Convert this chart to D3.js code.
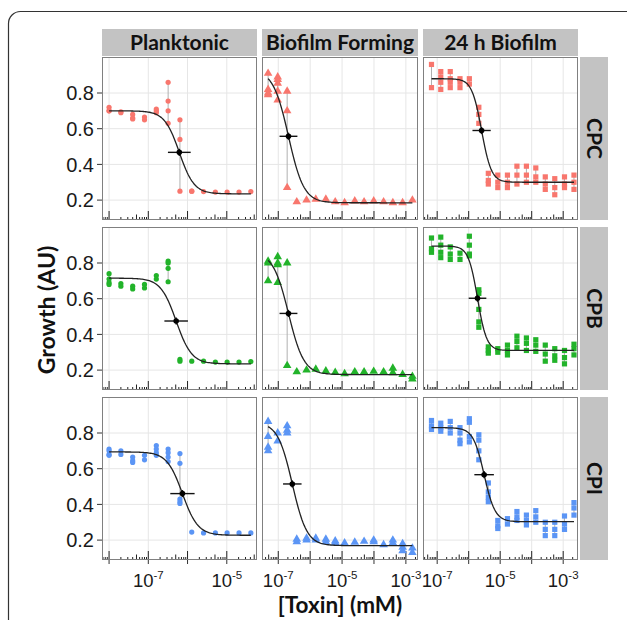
<!DOCTYPE html>
<html>
<head>
<meta charset="utf-8">
<script src="https://cdn.jsdelivr.net/npm/d3@7"></script>
<style>
body { margin: 0; background: #fff; }
</style>
</head>
<body>
<script>
// facet labels
var colNames = ["Planktonic", "Biofilm Forming", "24 h Biofilm"];
var rowNames = ["CPC", "CPB", "CPI"];
var rowColors = ["#F8766D", "#22b32a", "#5b95f5"];

// toxin concentrations (mM) per column
var concPlank = [1e-8, 2e-8, 4e-8, 8e-8, 1.6e-7, 3.2e-7, 6.4e-7, 1.28e-6, 2.56e-6, 5.12e-6, 1.02e-5, 2.05e-5, 4.1e-5];
var concForm = [4.8e-8, 9.6e-8, 1.9e-7, 3.8e-7, 7.7e-7, 1.5e-6, 3.1e-6, 6.1e-6, 1.2e-5, 2.5e-5, 4.9e-5, 9.8e-5, 2.0e-4, 3.9e-4, 7.9e-4, 1.6e-3];
var concBio = [6.6e-8, 1.3e-7, 2.6e-7, 5.3e-7, 1.05e-6, 2.1e-6, 4.2e-6, 8.4e-6, 1.7e-5, 3.4e-5, 6.8e-5, 1.35e-4, 2.7e-4, 5.4e-4, 1.1e-3, 2.2e-3];

// replicate growth values at each concentration
var plankCPC = [[0.72,0.70,0.70],[0.695,0.69],[0.68,0.66,0.655],[0.665,0.65],[0.71,0.70,0.69],[0.86,0.755,0.70,0.63],[0.65,0.54,0.25],[0.25,0.25],[0.248],[0.245],[0.245],[0.245],[0.248]];
var formCPC = [[0.91,0.82,0.80,0.79],[0.89,0.875,0.855,0.81,0.76],[0.81,0.70,0.27],[0.19],[0.20],[0.205],[0.205],[0.19],[0.185],[0.195],[0.19],[0.195],[0.19],[0.185],[0.185],[0.20]];
var bioCPC = [[0.96,0.83],[0.92,0.89,0.86,0.82],[0.92,0.88,0.86,0.83],[0.88,0.86,0.83],[0.88,0.85],[0.72,0.68,0.63],[0.35,0.31,0.29],[0.34,0.30,0.27],[0.34,0.30,0.27],[0.39,0.34,0.29],[0.39,0.34,0.30],[0.38,0.33,0.30],[0.33,0.29,0.26],[0.32,0.27,0.23],[0.33,0.29,0.27],[0.34,0.30,0.26]];

var plankCPB = [[0.74,0.71,0.69,0.68],[0.685,0.67],[0.67,0.655],[0.68,0.66],[0.73,0.71],[0.81,0.80,0.77,0.695],[0.26,0.25],[0.25],[0.25],[0.245],[0.245],[0.245],[0.248]];
var formCPB = [[0.81,0.80,0.70],[0.835,0.80,0.79,0.69],[0.80,0.225],[0.19],[0.20],[0.205],[0.195],[0.187],[0.18],[0.19],[0.19],[0.193],[0.19],[0.21,0.185],[0.175],[0.165,0.15]];
var bioCPB = [[0.94,0.88,0.86],[0.945,0.90,0.86,0.83],[0.89,0.85,0.82],[0.855,0.82],[0.95,0.90,0.85,0.84],[0.65,0.63,0.54,0.47,0.44],[0.33,0.31,0.295],[0.32,0.30],[0.34,0.31,0.285],[0.39,0.36,0.325],[0.38,0.35,0.31],[0.37,0.34,0.305],[0.34,0.29,0.25],[0.32,0.28,0.255],[0.31,0.27,0.235],[0.345,0.32,0.285]];

var plankCPI = [[0.71,0.70,0.68,0.675],[0.70,0.68],[0.665,0.645,0.635],[0.675,0.65],[0.73,0.71,0.69,0.675],[0.71,0.69,0.665,0.64],[0.685,0.63,0.43,0.415,0.405],[0.245],[0.24],[0.24],[0.24],[0.24],[0.24]];
var formCPI = [[0.865,0.78,0.72,0.70],[0.80,0.755],[0.84,0.815,0.80],[0.205,0.19],[0.21,0.20],[0.21,0.20],[0.205,0.19],[0.195,0.185],[0.184],[0.188],[0.193],[0.20,0.19],[0.174],[0.20,0.185],[0.18,0.16,0.14],[0.155,0.13]];
var bioCPI = [[0.87,0.84,0.82],[0.855,0.83,0.81],[0.865,0.83,0.80],[0.83,0.80,0.76,0.74],[0.88,0.86,0.78,0.75],[0.79,0.76,0.70,0.65],[0.52,0.47,0.44,0.415],[0.31,0.28,0.265],[0.32,0.29],[0.36,0.33,0.31],[0.34,0.31,0.285],[0.365,0.33,0.30],[0.30,0.26,0.225],[0.30,0.26,0.225],[0.335,0.29,0.26],[0.41,0.38,0.34]];

// fitted dose-response parameters, panel order row by row
var fitTop    = [0.70, 0.93, 0.88, 0.715, 0.86, 0.895, 0.694, 0.86, 0.83];
var fitBottom = [0.235, 0.185, 0.30, 0.235, 0.175, 0.31, 0.227, 0.169, 0.303];
var fitLogEC50 = [-6.21, -6.68, -5.59, -6.29, -6.68, -5.72, -6.13, -6.56, -5.51];
var fitHill   = [2.3, 1.8, 2.8, 2.2, 1.8, 3.0, 2.2, 1.9, 2.5];
var ec50Err   = [0.29, 0.28, 0.29, 0.30, 0.28, 0.28, 0.31, 0.29, 0.31];

var yTicks = [0.2, 0.4, 0.6, 0.8];
var xLabelExp = [[-7, -5], [-7, -5, -3], [-7, -5, -3]];

var panelData = [plankCPC, formCPC, bioCPC, plankCPB, formCPB, bioCPB, plankCPI, formCPI, bioCPI];
var colConc = [concPlank, concForm, concBio];

// layout
var colX = [[102, 257], [262, 418], [423, 578]];
var rowY = [[57, 220], [227, 390], [397, 560]];
var colDom = [[-8.18, -4.23], [-7.51, -2.62], [-7.45, -2.53]];

var svg = d3.select("body").append("svg")
    .attr("width", 627)
    .attr("height", 620);

svg.append("rect")
    .attr("x", 8.5).attr("y", 11.5)
    .attr("width", 700).attr("height", 700)
    .attr("rx", 12)
    .attr("fill", "none")
    .attr("stroke", "#333")
    .attr("stroke-width", 1.2);

var tickFont = "'Liberation Sans', Arial, sans-serif";
var boldFont = "Lato, 'Open Sans', sans-serif";

function drawPanel(r, c) {
  var idx = r * 3 + c;
  var x = d3.scaleLog()
      .domain([Math.pow(10, colDom[c][0]), Math.pow(10, colDom[c][1])])
      .range(colX[c]);
  var y = d3.scaleLinear()
      .domain([0.0885, 1.0017])
      .range([rowY[r][1], rowY[r][0]]);
  var g = svg.append("g");
  var x0 = colX[c][0], x1 = colX[c][1], y0 = rowY[r][0], y1 = rowY[r][1];

  g.append("rect").attr("x", x0).attr("y", y0)
      .attr("width", x1 - x0).attr("height", y1 - y0)
      .attr("fill", "#fff");

  // grid
  var decades = d3.range(Math.ceil(colDom[c][0]), Math.floor(colDom[c][1]) + 1);
  g.selectAll(".vg").data(decades).enter().append("line")
      .attr("x1", function(d) { return x(Math.pow(10, d)); })
      .attr("x2", function(d) { return x(Math.pow(10, d)); })
      .attr("y1", y0).attr("y2", y1)
      .attr("stroke", "#e6e6e6").attr("stroke-width", 1);
  g.selectAll(".hg").data(yTicks).enter().append("line")
      .attr("x1", x0).attr("x2", x1)
      .attr("y1", function(d) { return y(d); })
      .attr("y2", function(d) { return y(d); })
      .attr("stroke", "#e6e6e6").attr("stroke-width", 1);

  // log ticks along the bottom
  var lt = [];
  for (var d = Math.floor(colDom[c][0]); d <= Math.ceil(colDom[c][1]); d++) {
    for (var k = 1; k <= 9; k++) {
      var v = k * Math.pow(10, d);
      var lv = Math.log10(v);
      if (lv >= colDom[c][0] && lv <= colDom[c][1]) lt.push({v: v, len: k == 1 ? 9 : (k == 5 ? 5.5 : 3)});
    }
  }
  g.selectAll(".lt").data(lt).enter().append("line")
      .attr("x1", function(d) { return x(d.v); })
      .attr("x2", function(d) { return x(d.v); })
      .attr("y1", y1).attr("y2", function(d) { return y1 - d.len; })
      .attr("stroke", "#222").attr("stroke-width", 1);

  // replicate points
  var conc = colConc[c];
  var reps = panelData[idx];
  var pts = [];
  var ranges = [];
  reps.forEach(function(arr, i) {
    arr.forEach(function(v) { pts.push({x: conc[i], y: v}); });
    if (arr.length > 1) ranges.push({x: conc[i], lo: d3.min(arr), hi: d3.max(arr)});
  });

  g.selectAll(".rb").data(ranges).enter().append("line")
      .attr("x1", function(d) { return x(d.x); })
      .attr("x2", function(d) { return x(d.x); })
      .attr("y1", function(d) { return y(d.lo); })
      .attr("y2", function(d) { return y(d.hi); })
      .attr("stroke", "#b0b0b0").attr("stroke-width", 1);

  var col = rowColors[r];
  if (c == 0) {
    g.selectAll(".pt").data(pts).enter().append("circle")
        .attr("cx", function(d) { return x(d.x); })
        .attr("cy", function(d) { return y(d.y); })
        .attr("r", 2.6)
        .attr("fill", col);
  } else if (c == 1) {
    g.selectAll(".pt").data(pts).enter().append("path")
        .attr("d", d3.symbol().type(d3.symbolTriangle).size(32))
        .attr("transform", function(d) { return "translate(" + x(d.x) + "," + y(d.y) + ")"; })
        .attr("fill", col);
  } else {
    g.selectAll(".pt").data(pts).enter().append("rect")
        .attr("x", function(d) { return x(d.x) - 2.6; })
        .attr("y", function(d) { return y(d.y) - 2.6; })
        .attr("width", 5.2).attr("height", 5.2)
        .attr("fill", col);
  }

  // fitted curve
  var fTop = fitTop[idx], fBot = fitBottom[idx], ec = fitLogEC50[idx], hill = fitHill[idx];
  var lx0 = Math.log10(conc[0]), lx1 = Math.log10(conc[conc.length - 1]);
  var curve = d3.range(0, 121).map(function(i) {
    var lx = lx0 + (lx1 - lx0) * i / 120;
    return {x: Math.pow(10, lx), y: fBot + (fTop - fBot) / (1 + Math.pow(10, hill * (lx - ec)))};
  });
  g.append("path").datum(curve)
      .attr("d", d3.line().x(function(d) { return x(d.x); }).y(function(d) { return y(d.y); }))
      .attr("fill", "none").attr("stroke", "#222").attr("stroke-width", 1.3);

  // EC50 marker
  var ecY = (fTop + fBot) / 2;
  g.append("line")
      .attr("x1", x(Math.pow(10, ec - ec50Err[idx]))).attr("x2", x(Math.pow(10, ec + ec50Err[idx])))
      .attr("y1", y(ecY)).attr("y2", y(ecY))
      .attr("stroke", "#111").attr("stroke-width", 1.4);
  g.append("line")
      .attr("x1", x(Math.pow(10, ec))).attr("x2", x(Math.pow(10, ec)))
      .attr("y1", y(ecY + 0.02)).attr("y2", y(ecY - 0.02))
      .attr("stroke", "#111").attr("stroke-width", 1.4);
  g.append("circle")
      .attr("cx", x(Math.pow(10, ec))).attr("cy", y(ecY))
      .attr("r", 2.8).attr("fill", "#000");

  // border
  g.append("rect").attr("x", x0 + 0.5).attr("y", y0 + 0.5)
      .attr("width", x1 - x0 - 1).attr("height", y1 - y0 - 1)
      .attr("fill", "none").attr("stroke", "#808080").attr("stroke-width", 1);

  // y axis
  if (c == 0) {
    g.selectAll(".yt").data(yTicks).enter().append("line")
        .attr("x1", x0 - 5).attr("x2", x0)
        .attr("y1", function(d) { return y(d); })
        .attr("y2", function(d) { return y(d); })
        .attr("stroke", "#333");
    g.selectAll(".yl").data(yTicks).enter().append("text")
        .attr("x", x0 - 8)
        .attr("y", function(d) { return y(d); })
        .attr("dy", "0.36em")
        .attr("text-anchor", "end")
        .attr("font-family", tickFont)
        .attr("font-size", 20)
        .attr("fill", "#1a1a1a")
        .text(function(d) { return d3.format(".1f")(d); });
  }

  // x axis
  if (r == 2) {
    g.selectAll(".xt").data(decades).enter().append("line")
        .attr("x1", function(d) { return x(Math.pow(10, d)); })
        .attr("x2", function(d) { return x(Math.pow(10, d)); })
        .attr("y1", y1).attr("y2", y1 + 4)
        .attr("stroke", "#333");
    var xl = g.selectAll(".xl").data(xLabelExp[c]).enter().append("text")
        .attr("x", function(d) { return x(Math.pow(10, d)); })
        .attr("y", 587)
        .attr("text-anchor", "middle")
        .attr("font-family", tickFont)
        .attr("font-size", 18.5)
        .attr("fill", "#1a1a1a");
    xl.append("tspan").text("10");
    xl.append("tspan").attr("dy", -8).attr("font-size", 11.5)
        .text(function(d) { return "-" + Math.abs(d); });
  }
}

for (var r = 0; r < 3; r++) {
  for (var c = 0; c < 3; c++) drawPanel(r, c);
}

// column strips
colNames.forEach(function(n, c) {
  svg.append("rect")
      .attr("x", colX[c][0]).attr("y", 29)
      .attr("width", colX[c][1] - colX[c][0]).attr("height", 27)
      .attr("fill", "#c3c3c3");
  svg.append("text")
      .attr("x", (colX[c][0] + colX[c][1]) / 2).attr("y", 50)
      .attr("text-anchor", "middle")
      .attr("font-family", boldFont).attr("font-weight", "bold")
      .attr("font-size", 21).attr("fill", "#111")
      .text(n);
});

// row strips
rowNames.forEach(function(n, r) {
  svg.append("rect")
      .attr("x", 580).attr("y", rowY[r][0])
      .attr("width", 28).attr("height", rowY[r][1] - rowY[r][0])
      .attr("fill", "#c3c3c3");
  var cy = (rowY[r][0] + rowY[r][1]) / 2;
  svg.append("text")
      .attr("transform", "translate(587," + cy + ") rotate(90)")
      .attr("text-anchor", "middle")
      .attr("font-family", boldFont).attr("font-weight", "bold")
      .attr("font-size", 21).attr("fill", "#111")
      .text(n);
});

// axis titles
svg.append("text")
    .attr("x", 340).attr("y", 613)
    .attr("text-anchor", "middle")
    .attr("font-family", boldFont).attr("font-weight", "bold")
    .attr("font-size", 22.5).attr("fill", "#111")
    .text("[Toxin] (mM)");
svg.append("text")
    .attr("transform", "translate(55,310) rotate(-90)")
    .attr("text-anchor", "middle")
    .attr("font-family", boldFont).attr("font-weight", "bold")
    .attr("font-size", 23).attr("fill", "#111")
    .text("Growth (AU)");
</script>
</body>
</html>
